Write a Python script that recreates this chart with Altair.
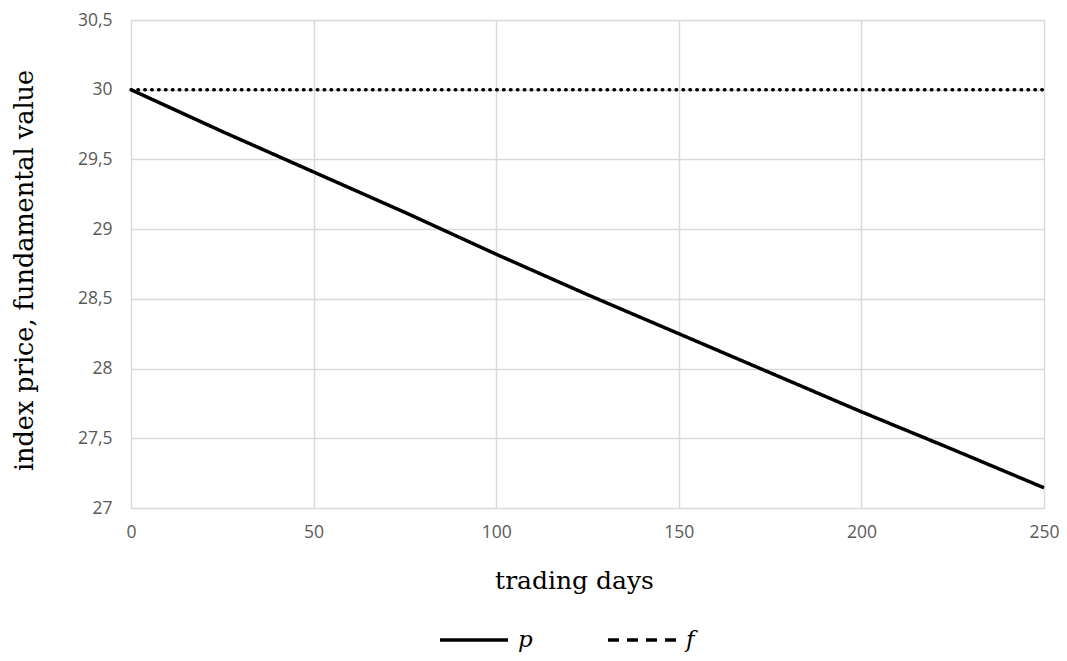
import altair as alt
import pandas as pd

days = [0, 25, 50, 75, 100, 125, 150, 175, 200, 225, 250]
p_values = [30.0, 29.70, 29.41, 29.12, 28.82, 28.53, 28.25, 27.97, 27.69, 27.42, 27.145]
f_values = [30.0, 30.0, 30.0, 30.0, 30.0, 30.0, 30.0, 30.0, 30.0, 30.0, 30.0]
series_names = ["p", "f"]
x_ticks = [0, 50, 100, 150, 200, 250]
y_ticks = [27, 27.5, 28, 28.5, 29, 29.5, 30, 30.5]

df = pd.DataFrame(
    {"day": days * 2, "value": p_values + f_values,
     "series": ["p"] * len(days) + ["f"] * len(days)}
)

label_font = "Open Sans"
serif = "DejaVu Serif"

x_enc = alt.X(
    "day:Q",
    scale=alt.Scale(domain=[0, 250], nice=False),
    axis=alt.Axis(
        values=x_ticks, title="trading days", grid=True, gridColor="#d9d9d9",
        gridWidth=1.5, domain=False, ticks=False, labelFont=label_font,
        labelFontSize=17.5, labelColor="#595959", labelPadding=15,
        labelFlush=False,
        titleFont=serif, titleFontSize=25, titleFontWeight="normal",
        titleColor="#000000", titleX=443, titleY=80, titleAlign="center",
        titleBaseline="alphabetic",
    ),
)
y_enc = alt.Y(
    "value:Q",
    scale=alt.Scale(domain=[27, 30.5], nice=False, zero=False),
    axis=alt.Axis(
        values=y_ticks, title="index price, fundamental value", grid=True,
        gridColor="#d9d9d9", gridWidth=1.5, domain=False, ticks=False,
        labelFont=label_font, labelFontSize=17.5, labelColor="#595959",
        labelPadding=19, labelExpr="replace(toString(datum.value), '.', ',')",
        titleFont=serif, titleFontSize=25.5, titleFontWeight="normal",
        titleColor="#000000", titleX=-107, titleY=250, titleAngle=270,
        titleAlign="center", titleBaseline="middle",
    ),
)

base = alt.Chart(df)

p_line = base.transform_filter(alt.datum.series == "p").mark_line(
    color="black", strokeWidth=3.5
).encode(
    x=x_enc,
    y=y_enc,
    strokeDash=alt.StrokeDash(
        "series:N",
        scale=alt.Scale(domain=series_names, range=[[1, 0], [11, 8]]),
        legend=alt.Legend(
            title=None, orient="none", legendX=307, legendY=584,
            direction="horizontal", symbolType="stroke", symbolSize=4624,
            symbolStrokeWidth=3.5, symbolStrokeColor="black",
            labelFont=serif, labelFontStyle="italic", labelFontSize=23,
            labelColor="#000000", labelOffset=8, columnPadding=68,
        ),
    ),
)

f_line = base.transform_filter(alt.datum.series == "f").mark_line(
    color="black", strokeWidth=3.5, strokeDash=[0.5, 6.4], strokeCap="round"
).encode(x=x_enc, y=y_enc)

chart = (
    alt.layer(p_line, f_line)
    .properties(
        width=913, height=488,
        autosize=alt.AutoSizeParams(type="none"),
        padding={"left": 123, "top": 12, "right": 15, "bottom": 145},
    )
    .configure_view(stroke=None)
    .configure(background="white")
)

chart.save("out.html", embed_options={"renderer": "svg", "actions": False})
